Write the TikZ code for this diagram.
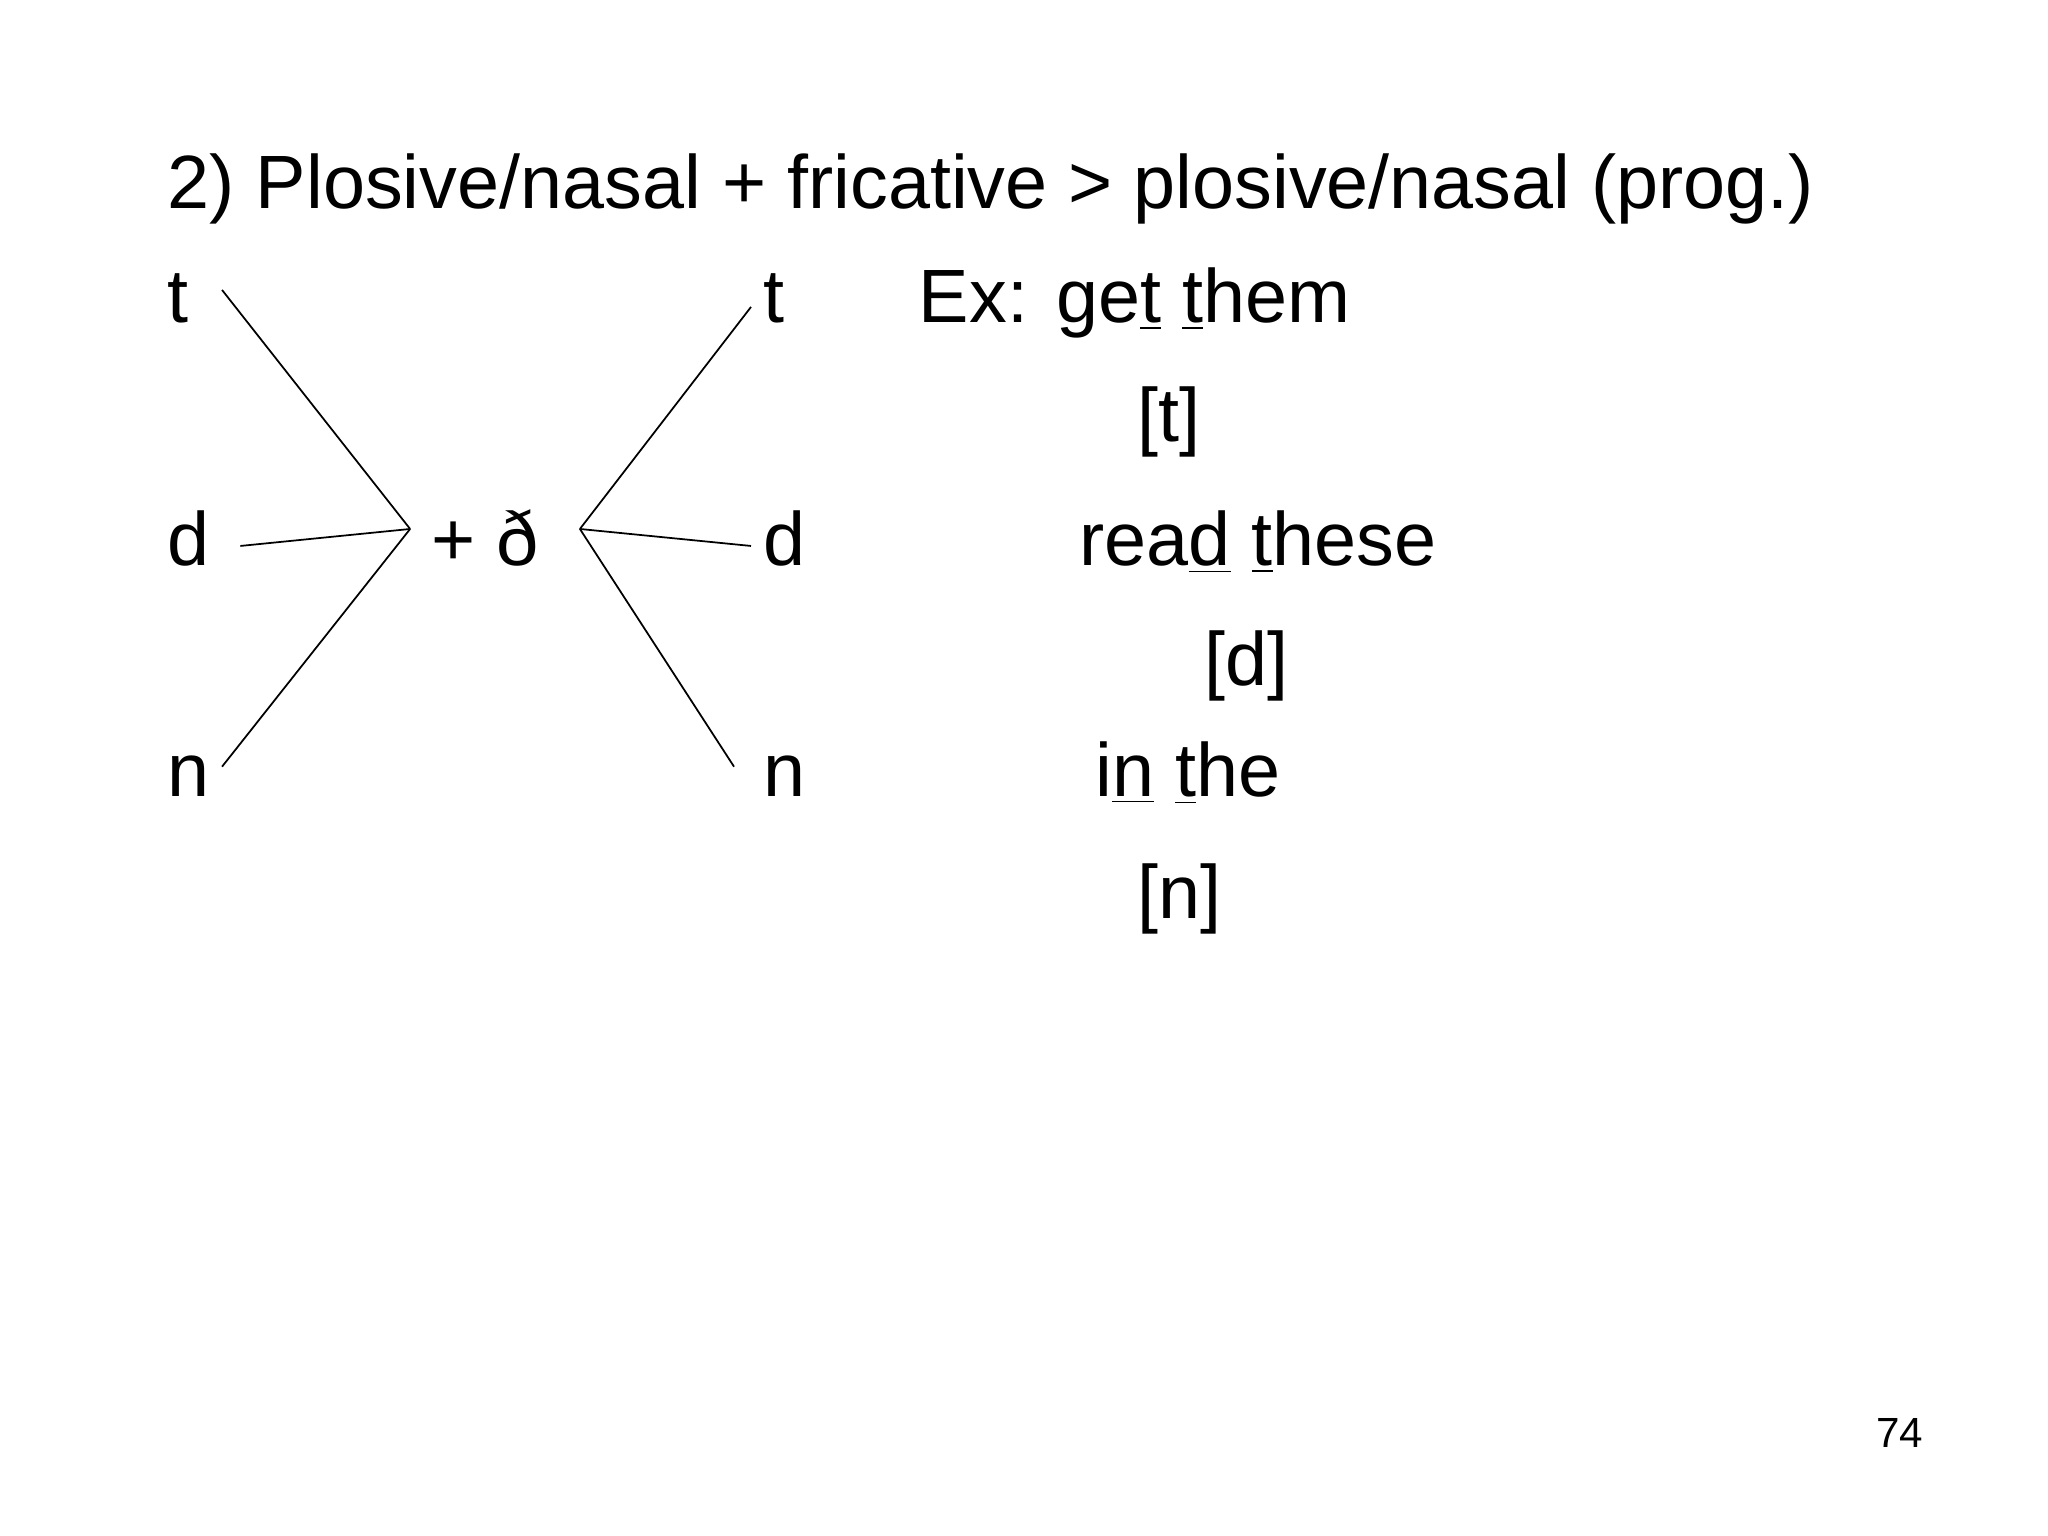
\documentclass[tikz,border=0pt]{standalone}
\usepackage{fontspec}
\setmainfont{Liberation Sans}
\begin{document}
\begin{tikzpicture}[x=0.013061cm,y=-0.013061cm,
  txt/.style={anchor=base west,inner sep=0pt,font=\fontsize{21.5}{26}\selectfont},
  ln/.style={line width=0.5pt}]
\useasboundingbox (0,0) rectangle (1568,1176);
\newcommand\ulx[1]{\underline{#1}}
\node[txt] (title) at (128,160) {2) Plosive/nasal + fricative > plosive/nasal (prog.)};
\node[txt] (t1) at (128,247) {t};
\node[txt] (d1) at (128,433) {d};
\node[txt] (n1) at (128,610) {n};
\node[txt] (dh) at (330,433) {+ ð};
\node[txt] (t2) at (584,247) {t};
\node[txt] (d2) at (584,433) {d};
\node[txt] (n2) at (584,610) {n};
\node[txt] (ex1) at (703,247) {Ex: ge\ulx{t} \ulx{t}hem};
\node[txt] (br1) at (870,338) {[t]};
\node[txt] (ex2) at (826,433) {rea\ulx{d} \ulx{t}hese};
\node[txt] (br2) at (922,525) {[d]};
\node[txt] (ex3) at (838,610) {i\ulx{n} \ulx{t}he};
\node[txt] (br3) at (870,703) {[n]};
\node[anchor=base east,inner sep=0pt,font=\fontsize{12}{14}\selectfont] (pg) at (1473,1108) {74};
\coordinate (a1) at (170,222); \coordinate (a2) at (184,418); \coordinate (a3) at (170,587);
\coordinate (L) at (314,405); \coordinate (R) at (444,405);
\coordinate (b1) at (575,235); \coordinate (b2) at (575,418); \coordinate (b3) at (562,587);
\draw[ln] (a1) -- (L); \draw[ln] (a2) -- (L); \draw[ln] (a3) -- (L);
\draw[ln] (b1) -- (R); \draw[ln] (b2) -- (R); \draw[ln] (b3) -- (R);
\end{tikzpicture}
\end{document}
